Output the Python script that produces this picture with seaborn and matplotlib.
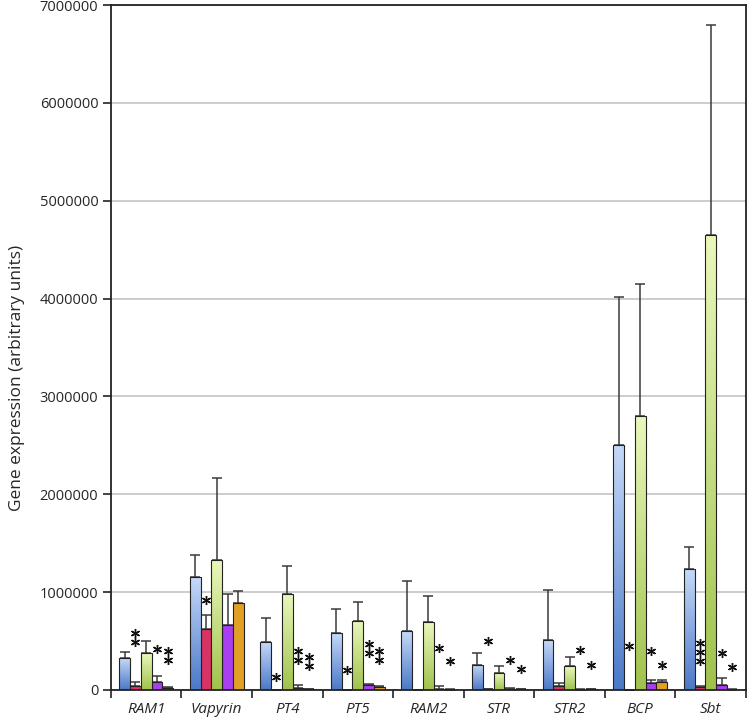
import matplotlib
matplotlib.use("Agg")
import matplotlib.pyplot as plt
from matplotlib.colors import LinearSegmentedColormap
from matplotlib.ticker import MultipleLocator, FixedLocator
import numpy as np
import pandas as pd
import seaborn as sns

sns.set_style("white")
plt.rcParams["font.family"] = ["Open Sans", "DejaVu Sans"]

# data
genes = ["RAM1", "Vapyrin", "PT4", "PT5", "RAM2", "STR", "STR2", "BCP", "Sbt"]
series = ["A", "B", "C", "D", "E"]

vals_a = [325000, 1150000, 490000, 580000, 600000, 260000, 510000, 2505000, 1235000]
vals_b = [40000, 620000, 3000, 3000, 3000, 10000, 45000, 3000, 35000]
vals_c = [378000, 1330000, 985000, 710000, 690000, 170000, 240000, 2800000, 4650000]
vals_d = [78000, 660000, 20000, 54000, 15000, 15000, 3000, 68000, 48000]
vals_e = [20000, 890000, 5000, 34000, 3000, 5000, 5000, 78000, 3000]

err_a = [60000, 230000, 250000, 250000, 510000, 120000, 510000, 1515000, 225000]
err_b = [45000, 150000, 0, 0, 0, 0, 30000, 0, 10000]
err_c = [126000, 840000, 285000, 190000, 270000, 75000, 100000, 1350000, 2150000]
err_d = [68000, 320000, 28000, 6000, 25000, 5000, 2000, 37000, 78000]
err_e = [10000, 120000, 3000, 11000, 2000, 3000, 3000, 21000, 2000]

# significance stars: gene index, series index, height of lowest star, count
star_gene = [0, 0, 0, 1, 2, 2, 2, 3, 3, 3, 4, 4, 5, 5, 5, 6, 6, 7, 7, 7, 8, 8, 8]
star_series = [1, 3, 4, 1, 1, 3, 4, 1, 3, 4, 3, 4, 1, 3, 4, 3, 4, 1, 3, 4, 1, 3, 4]
star_y = [494000, 416000, 307000, 920000, 136000, 307000, 245000, 204000, 378000,
          310000, 432000, 300000, 500000, 307000, 210000, 409000, 260000, 450000,
          400000, 255000, 293000, 375000, 232000]
star_n = [2, 1, 2, 1, 1, 2, 2, 1, 2, 2, 1, 1, 1, 1, 1, 1, 1, 1, 1, 1, 3, 1, 1]
star_step = 92000

colors = ["#7fa3e3", "#d93366", "#c8e27a", "#a93ff0", "#e2a024"]
grad_colors = {0: ("#4a78c8", "#c6d9f8"), 2: ("#a0c24c", "#eaf8bc")}

all_vals = [vals_a, vals_b, vals_c, vals_d, vals_e]
all_errs = [err_a, err_b, err_c, err_d, err_e]

rows = []
for s, v in zip(series, all_vals):
    for g, val in zip(genes, v):
        rows.append([g, s, val])
df = pd.DataFrame(rows, columns=["gene", "series", "value"])

fig = plt.figure(figsize=(7.49, 7.24), dpi=100)
ax = fig.add_axes([0.148, 0.047, 0.848, 0.946])

sns.barplot(
    data=df, x="gene", y="value", hue="series", order=genes, hue_order=series,
    palette=colors, errorbar=None, width=0.765, gap=0, saturation=1,
    edgecolor="#222222", linewidth=0.8, legend=False, ax=ax, zorder=2,
)

# vertical gradient on the blue and green bars
for idx, (dark, light) in grad_colors.items():
    cmap = LinearSegmentedColormap.from_list(f"g{idx}", [dark, light])
    grad = np.linspace(0, 1, 256).reshape(-1, 1)
    for p in ax.containers[idx]:
        x0, y0 = p.get_x(), p.get_y()
        w, h = p.get_width(), p.get_height()
        im = ax.imshow(grad, extent=[x0, x0 + w, y0, y0 + h], origin="lower",
                       cmap=cmap, aspect="auto", zorder=2.1, interpolation="bilinear")
        im.set_clip_path(p)
        p.set_facecolor("none")
        p.set_zorder(2.2)

# upper error bars only
for cont, v, e in zip(ax.containers, all_vals, all_errs):
    xs = [p.get_x() + p.get_width() / 2 for p in cont]
    ax.errorbar(xs, v, yerr=[np.zeros(len(e)), e], fmt="none", ecolor="#3a3a3a",
                elinewidth=1.1, capsize=3.6, capthick=1.1, zorder=1.9)

# stars
for g, s, y, n in zip(star_gene, star_series, star_y, star_n):
    p = ax.containers[s][g]
    x = p.get_x() + p.get_width() / 2
    for k in range(n):
        ax.plot(x, y + k * star_step, marker=(6, 2, 0), markersize=6.5,
                markeredgewidth=1.0, color="#111111", zorder=3)

ax.set_xlim(-0.5, len(genes) - 0.5)
ax.set_ylim(0, 7000000)
ax.yaxis.set_major_locator(MultipleLocator(1000000))
ax.ticklabel_format(style="plain", axis="y", useOffset=False)
ax.grid(axis="y", color="#c4c4c4", linewidth=1.2, zorder=0)
ax.set_axisbelow(True)

ax.xaxis.set_minor_locator(FixedLocator(np.arange(-0.5, len(genes), 1)))
ax.tick_params(axis="x", which="major", length=0, pad=9, labelsize=11)
ax.tick_params(axis="x", which="minor", length=6, width=1.2, color="#222222", bottom=True)
ax.tick_params(axis="y", which="major", length=6, width=1.2, color="#222222",
               left=True, labelsize=10.5, pad=3)
for lab in ax.get_xticklabels():
    lab.set_fontstyle("italic")

for sp in ax.spines.values():
    sp.set_visible(True)
    sp.set_color("#222222")
    sp.set_linewidth(1.3)

ax.set_xlabel("")
ax.set_ylabel("Gene expression (arbitrary units)", fontsize=12.5)
ax.yaxis.set_label_coords(-0.135, 0.455)

fig.savefig("out.png", dpi=100)
